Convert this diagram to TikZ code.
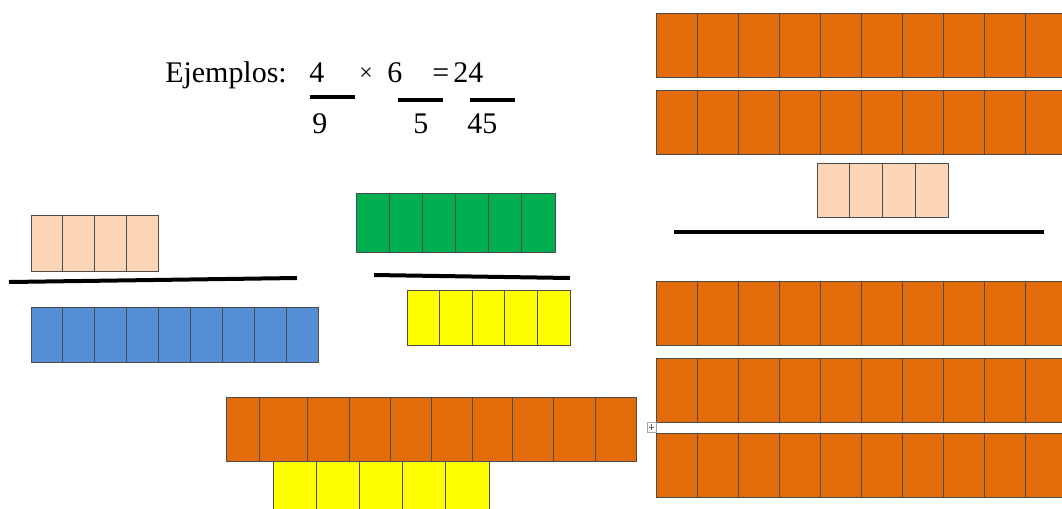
\documentclass[tikz,border=0pt]{standalone}
\usepackage{fontspec}
\setmainfont{Liberation Serif}
\newfontfamily\letraserif{Liberation Serif}
\usetikzlibrary{positioning}
\definecolor{naranja}{RGB}{226,107,10}
\definecolor{durazno}{RGB}{251,213,181}
\definecolor{azul}{RGB}{85,142,213}
\definecolor{verde}{RGB}{0,176,80}
\definecolor{amarillo}{RGB}{255,255,0}
\tikzset{
  celda/.style={fill=#1,draw=black!70,line width=0.6pt},
  celda/.default=naranja,
  raya/.style={line width=1mm},
  cifra/.style={font=\letraserif\fontsize{21.3}{25}\selectfont,inner sep=0pt,anchor=base west},
}
\begin{document}
\begin{tikzpicture}[x=0.025cm,y=-0.025cm]
  \clip (0,0) rectangle (1062,508);
  \fill[white] (0,0) rectangle (1062,508);
  % texto del ejemplo
  \node[cifra] (ejemplos) at (165,82) {Ejemplos:};
  \node[cifra] (n4) at (309,82) {4};
  \node[font=\letraserif\fontsize{17}{20}\selectfont,inner sep=0pt] (por) at (366,74) {×};
  \node[cifra] (n6) at (387,82) {6};
  \node[cifra] (igual) at (432,82) {=};
  \node[cifra] (n24) at (453,82) {24};
  \node[cifra] (d9) at (312,133) {9};
  \node[cifra] (d5) at (413,133) {5};
  \node[cifra] (d45) at (467,133) {45};
  \draw[raya] (310,97) -- (355,97);
  \draw[raya] (398,100) -- (443,100);
  \draw[raya] (470,100) -- (515,100);
  % regletas de la izquierda
  \foreach \i in {0,...,3} \draw[celda=durazno] (31+\i*31.75,215) rectangle ++(31.75,56);
  \draw[raya] (9,282) -- (297,278);
  \foreach \i in {0,...,8} \draw[celda=azul] (31+\i*31.9,307) rectangle ++(31.9,55);
  % regletas del centro
  \foreach \i in {0,...,5} \draw[celda=verde] (356+\i*33.17,193) rectangle ++(33.17,59);
  \draw[raya] (374,275) -- (570,278);
  \foreach \i in {0,...,4} \draw[celda=amarillo] (407+\i*32.6,290) rectangle ++(32.6,55);
  % abajo
  \foreach \a/\b in {226/259,259/307,307/349,349/390,390/431,431/472,472/512,512/553,553/595,595/636}
    \draw[celda] (\a,397) rectangle (\b,461);
  \foreach \i in {0,...,4} \draw[celda=amarillo] (273+\i*43.2,461) rectangle ++(43.2,60);
  % regletas de la derecha
  \foreach \y in {13,90,281,358,433}
    \foreach \i in {0,...,10} \draw[celda] (656+\i*41,\y) rectangle ++(41,64);
  \foreach \i in {0,...,3} \draw[celda=durazno] (817+\i*32.75,163) rectangle ++(32.75,54);
  \draw[raya] (674,232) -- (1044,232);
  % asa de la tabla
  \draw[black!35,fill=white,line width=0.4pt] (647,422) rectangle (656,432);
  \draw[black!60,line width=0.4pt] (649,427) -- (654,427) (651.5,424) -- (651.5,430);
\end{tikzpicture}
\end{document}
